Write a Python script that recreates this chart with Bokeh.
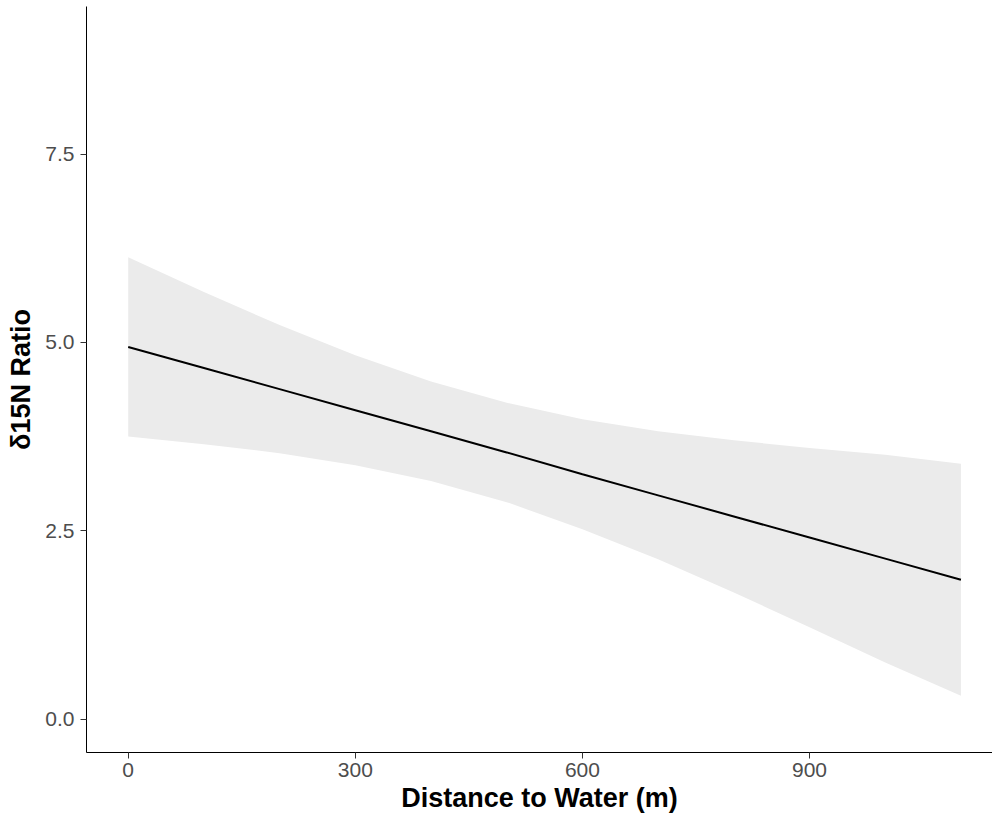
from bokeh.plotting import figure
from bokeh.models import FixedTicker, Range1d, NumeralTickFormatter
from bokeh.embed import file_html
from bokeh.resources import INLINE

# Data (linear fit with 95% confidence band)
distance = [0, 100, 200, 300, 400, 500, 600, 700, 800, 900, 1000, 1100]
fit = [4.94, 4.66, 4.38, 4.10, 3.82, 3.54, 3.25, 2.97, 2.69, 2.41, 2.13, 1.85]
upper = [6.13, 5.67, 5.23, 4.83, 4.48, 4.20, 3.98, 3.82, 3.70, 3.60, 3.51, 3.39]
lower = [3.75, 3.65, 3.53, 3.37, 3.16, 2.88, 2.52, 2.12, 1.68, 1.22, 0.75, 0.31]

x_ticks = [0, 300, 600, 900]
y_ticks = [0, 2.5, 5.0, 7.5]

FONT = "Liberation Sans"

p = figure(width=992, height=824, output_backend="svg", toolbar_location=None,
           x_range=Range1d(-55.1, 1141.7), y_range=Range1d(-0.444, 9.46),
           min_border_left=86, min_border_right=0, min_border_top=6,
           min_border_bottom=72)

p.outline_line_color = None
p.background_fill_color = "white"
p.border_fill_color = "white"
p.xgrid.visible = False
p.ygrid.visible = False

p.varea(x=distance, y1=lower, y2=upper, fill_color="#EBEBEB", fill_alpha=1.0)
p.line(distance, fit, line_color="black", line_width=2)

p.xaxis.ticker = FixedTicker(ticks=x_ticks)
p.yaxis.ticker = FixedTicker(ticks=y_ticks)
p.yaxis.formatter = NumeralTickFormatter(format="0.0")

p.xaxis.axis_label = "Distance to Water (m)"
p.yaxis.axis_label = "δ15N Ratio"

for ax in (p.xaxis[0], p.yaxis[0]):
    ax.axis_line_color = "black"
    ax.axis_line_width = 1
    ax.major_tick_line_color = "#333333"
    ax.major_tick_out = 6
    ax.major_tick_in = 0
    ax.minor_tick_line_color = None
    ax.major_label_text_font = FONT
    ax.major_label_text_font_size = "21px"
    ax.major_label_text_color = "#4D4D4D"
    ax.axis_label_text_font = FONT
    ax.axis_label_text_font_size = "27px"
    ax.axis_label_text_font_style = "bold"
    ax.axis_label_text_color = "black"

p.xaxis.major_label_standoff = 4
p.xaxis.axis_label_standoff = 3
p.yaxis.major_label_standoff = 6
p.yaxis.axis_label_standoff = 6

open("out.html", "w").write(file_html(p, INLINE))
